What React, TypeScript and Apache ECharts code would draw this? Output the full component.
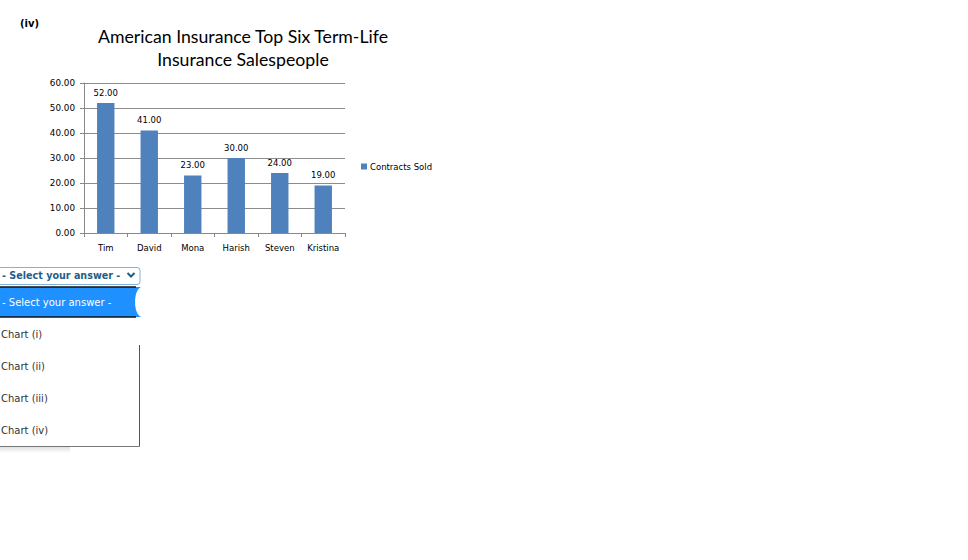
import React, { useEffect, useRef } from "react";
import * as echarts from "echarts";

const categories = ["Tim", "David", "Mona", "Harish", "Steven", "Kristina"];
const contractsSold = [52, 41, 23, 30, 24, 19];
const seriesName = "Contracts Sold";
const titleLines = ["American Insurance Top Six Term-Life", "Insurance Salespeople"];
const answerOptions = ["Chart (i)", "Chart (ii)", "Chart (iii)", "Chart (iv)"];
const placeholder = "- Select your answer -";

export default function App() {
  const ref = useRef<HTMLDivElement>(null);
  useEffect(() => {
    if (!ref.current) return;
    const chart = echarts.init(ref.current, null, { renderer: "svg" });
    const axisFont = "DejaVu Sans";
    const optionTexts = answerOptions.map((t, i) => ({
      type: "text",
      left: 1,
      top: 329 + i * 32,
      style: { text: t, font: "10px 'DejaVu Sans'", fill: "#333333" },
    }));
    chart.setOption({
      animation: false,
      backgroundColor: "#ffffff",
      grid: { left: 84, top: 83, width: 261, height: 150 },
      legend: {
        data: [seriesName],
        left: 356,
        top: 157,
        icon: "rect",
        itemWidth: 6,
        itemHeight: 6,
        itemGap: 4,
        textStyle: { fontSize: 8.5, fontFamily: axisFont, color: "#000", padding: [0, 0, 0, -2] },
      },
      xAxis: {
        type: "category",
        data: categories,
        axisLine: { lineStyle: { color: "#888888" } },
        axisTick: { show: true, length: 4, lineStyle: { color: "#888888" } },
        axisLabel: { fontSize: 8.5, fontFamily: axisFont, color: "#000", margin: 10 },
      },
      yAxis: {
        type: "value",
        min: 0,
        max: 60,
        interval: 10,
        axisLine: { show: true, lineStyle: { color: "#888888" } },
        axisTick: { show: true, length: 4, lineStyle: { color: "#888888" } },
        axisLabel: {
          fontSize: 8.8,
          fontFamily: axisFont,
          color: "#000",
          margin: 9,
          formatter: (v: number) => v.toFixed(2),
        },
        splitLine: { lineStyle: { color: "#8c8c8c" } },
      },
      series: [
        {
          name: seriesName,
          type: "bar",
          data: contractsSold,
          barWidth: "40%",
          itemStyle: { color: "#4F81BD" },
          label: {
            show: true,
            position: "top",
            distance: 6,
            fontSize: 8.5,
            fontFamily: axisFont,
            color: "#000",
            formatter: (p: any) => Number(p.value).toFixed(2),
          },
        },
      ],
      graphic: [
        {
          type: "text",
          left: 20,
          top: 18,
          style: { text: "(iv)", font: "bold 10px 'DejaVu Sans'", fill: "#000" },
        },
        {
          type: "text",
          x: 243,
          y: 36,
          style: {
            text: titleLines[0],
            font: "17.7px Lato",
            fill: "#000",
            align: "center",
            verticalAlign: "middle",
          },
        },
        {
          type: "text",
          x: 243,
          y: 59,
          style: {
            text: titleLines[1],
            font: "17.7px Lato",
            fill: "#000",
            align: "center",
            verticalAlign: "middle",
          },
        },
        // select box
        {
          type: "rect",
          shape: { x: -2, y: 267.5, width: 142, height: 17, r: 3 },
          style: { fill: "#ffffff", stroke: "#7fb2dc", lineWidth: 1 },
        },
        {
          type: "text",
          left: 2,
          top: 270.5,
          style: { text: placeholder, font: "bold 9.6px 'DejaVu Sans'", fill: "#1d5f8a" },
        },
        {
          type: "polyline",
          shape: { points: [[127.5, 273], [131, 276.5], [134.5, 273]] },
          style: { stroke: "#1d5f8a", lineWidth: 2, fill: "none" },
        },
        // dropdown panel
        {
          type: "rect",
          shape: { x: -2, y: 287, width: 141, height: 159.5 },
          style: { fill: "#ffffff", stroke: "none" },
        },
        {
          type: "line",
          shape: { x1: 139.5, y1: 345, x2: 139.5, y2: 446.5 },
          style: { stroke: "#555555", lineWidth: 1 },
        },
        {
          type: "line",
          shape: { x1: 0, y1: 446.5, x2: 139.5, y2: 446.5 },
          style: { stroke: "#777777", lineWidth: 1 },
        },
        {
          type: "rect",
          shape: { x: 0, y: 447, width: 70, height: 6 },
          style: {
            fill: new echarts.graphic.LinearGradient(0, 0, 0, 1, [
              { offset: 0, color: "rgba(0,0,0,0.12)" },
              { offset: 1, color: "rgba(0,0,0,0)" },
            ]),
          },
        },
        // highlighted row
        {
          type: "rect",
          shape: { x: -2, y: 287, width: 143, height: 30 },
          style: { fill: "#1e90ff", stroke: "none" },
        },
        {
          type: "ellipse",
          shape: { cx: 142, cy: 302, rx: 7, ry: 15 },
          style: { fill: "#ffffff", stroke: "none" },
        },
        {
          type: "line",
          shape: { x1: 0, y1: 287, x2: 136, y2: 287 },
          style: { stroke: "#111111", lineWidth: 1.5 },
        },
        {
          type: "line",
          shape: { x1: 0, y1: 317, x2: 136, y2: 317 },
          style: { stroke: "#111111", lineWidth: 1.5 },
        },
        {
          type: "text",
          left: 2,
          top: 297,
          style: { text: placeholder, font: "10px 'DejaVu Sans'", fill: "#ffffff" },
        },
        ...optionTexts,
      ],
    });
    return () => chart.dispose();
  }, []);
  return (
    <div
      ref={ref}
      style={{ position: "fixed", left: 0, top: 0, width: 968, height: 560 }}
    />
  );
}
